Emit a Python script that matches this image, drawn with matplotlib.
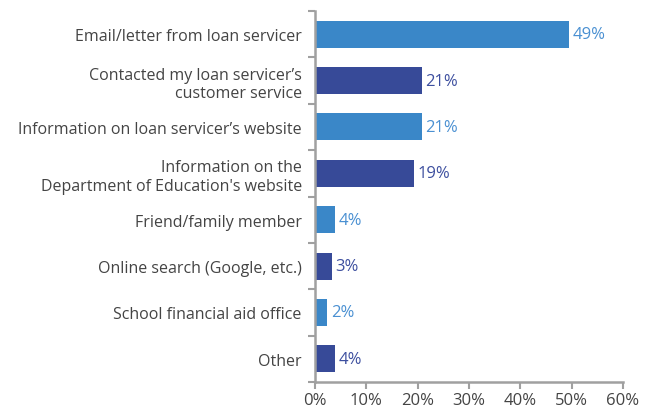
import matplotlib
matplotlib.use("Agg")
import matplotlib.pyplot as plt
import numpy as np

categories = [
    "Email/letter from loan servicer",
    "Contacted my loan servicer\u2019s\ncustomer service",
    "Information on loan servicer\u2019s website",
    "Information on the\nDepartment of Education's website",
    "Friend/family member",
    "Online search (Google, etc.)",
    "School financial aid office",
    "Other",
]
values = [49.4, 20.8, 20.8, 19.3, 3.9, 3.3, 2.4, 3.9]
labels = ["49%", "21%", "21%", "19%", "4%", "3%", "2%", "4%"]
xticks = [0, 10, 20, 30, 40, 50, 60]

light = "#3a87c8"
dark = "#374a98"
light_txt = "#4a90d2"
dark_txt = "#3d4f9f"
bar_colors = [light if i % 2 == 0 else dark for i in range(len(categories))]
txt_colors = [light_txt if i % 2 == 0 else dark_txt for i in range(len(categories))]

plt.rcParams['font.family'] = ['Open Sans', 'DejaVu Sans']

fig = plt.figure(figsize=(6.57, 4.10), dpi=100)
ax = fig.add_axes([315/657, 1-383/410, (623-315)/657, (383-12)/410])

y = np.arange(len(categories))
ax.barh(y, values, height=0.58, color=bar_colors)
for yi, v, lab, c in zip(y, values, labels, txt_colors):
    ax.text(v + 0.7, yi, lab, va='center', ha='left', fontsize=12, color=c)

ax.set_xlim(0, 60)
ax.set_ylim(len(categories) - 0.5, -0.5)
ax.set_xticks(xticks)
ax.set_xticklabels([f"{t}%" for t in xticks], fontsize=12, color="#444444")
ax.set_yticks(y)
ax.set_yticklabels(categories, fontsize=11.5, color="#444444", linespacing=1.2)
ax.tick_params(axis='y', length=0, pad=9.5)
ax.set_yticks(np.arange(-0.5, len(categories)), minor=True)
ax.tick_params(axis='y', which='minor', length=5, width=1.5, color="#a0a0a0")
ax.tick_params(axis='x', length=5, width=1.5, color="#a0a0a0", pad=2.5)

for s in ['top', 'right']:
    ax.spines[s].set_visible(False)
for s in ['left', 'bottom']:
    ax.spines[s].set_color("#a0a0a0")
    ax.spines[s].set_linewidth(1.8)

fig.savefig("out.png", dpi=100)
